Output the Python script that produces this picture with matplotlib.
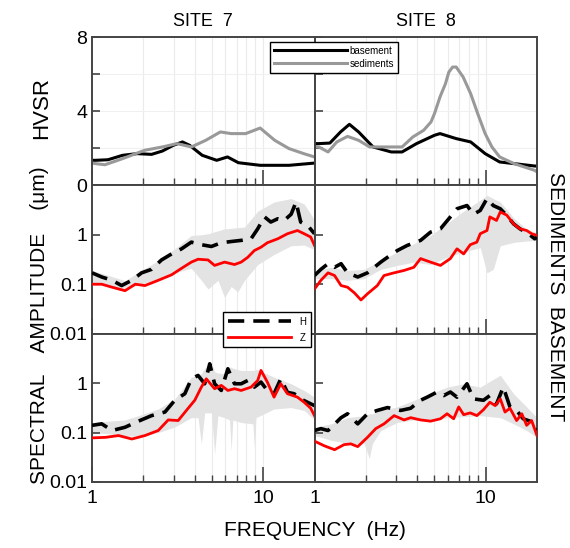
import matplotlib.pyplot as plt
from matplotlib.ticker import NullLocator, FixedLocator

plt.rcParams['font.family'] = ['Liberation Sans', 'DejaVu Sans']

# ---- HVSR (top row) ----
f7_base = [1.00, 1.05, 1.24, 1.51, 1.84, 2.23, 2.58, 2.99, 3.38, 3.72, 4.41, 5.36, 6.2, 7.18, 9.62, 14.2, 20.0]
hv7_base = [1.35, 1.35, 1.38, 1.62, 1.71, 1.67, 1.85, 2.16, 2.34, 2.16, 1.62, 1.35, 1.53, 1.22, 1.08, 1.08, 1.2]
f7_sed = [1.00, 1.05, 1.19, 1.51, 2.03, 2.58, 3.14, 3.81, 4.63, 5.63, 6.51, 7.92, 9.62, 11.7, 14.2, 17.3, 20.0]
hv7_sed = [1.2, 1.17, 1.11, 1.44, 1.89, 2.07, 2.25, 2.07, 2.43, 2.88, 2.79, 2.79, 3.09, 2.43, 1.98, 1.71, 1.53]
f8_base = [1.00, 1.06, 1.23, 1.42, 1.60, 1.81, 2.20, 2.81, 3.25, 3.95, 5.03, 5.42, 6.74, 8.19, 9.95, 12.1, 14.7, 19.5, 20.0]
hv8_base = [2.25, 2.25, 2.28, 2.88, 3.29, 2.88, 2.07, 1.80, 1.80, 2.25, 2.70, 2.79, 2.52, 2.34, 1.71, 1.26, 1.17, 1.04, 1.04]
f8_sed = [1.00, 1.06, 1.20, 1.35, 1.56, 1.81, 2.10, 2.67, 3.25, 3.76, 4.35, 4.80, 5.03, 5.42, 5.83, 6.10, 6.42, 6.74, 7.40, 8.19, 9.00, 9.95, 10.9, 12.1, 14.7, 19.5, 20.0]
hv8_sed = [2.1, 2.07, 1.80, 2.34, 2.64, 2.43, 2.07, 2.07, 2.07, 2.61, 2.97, 3.42, 3.87, 4.77, 5.48, 6.1, 6.38, 6.38, 5.84, 4.94, 3.87, 2.79, 2.07, 1.53, 1.17, 0.80, 0.72]

# ---- spectra, site 7 sediments ----
s7s_fz = [1.00, 1.14, 1.31, 1.56, 1.79, 2.04, 2.44, 2.92, 3.34, 3.81, 4.17, 4.77, 5.21, 5.96, 6.81, 7.45, 8.14, 8.90, 9.73, 10.6, 12.2, 13.9, 15.9, 17.4, 19.0, 20.0]
s7s_z = [0.10, 0.10, 0.087, 0.074, 0.10, 0.094, 0.12, 0.155, 0.21, 0.28, 0.32, 0.31, 0.24, 0.28, 0.25, 0.28, 0.35, 0.48, 0.56, 0.69, 0.83, 1.05, 1.22, 1.05, 0.90, 0.61]
s7s_fh = [1.00, 1.14, 1.31, 1.49, 1.71, 1.95, 2.23, 2.55, 2.92, 3.34, 3.81, 4.36, 4.99, 5.70, 6.51, 7.45, 8.51, 9.31, 10.2, 11.1, 12.2, 13.3, 14.6, 15.6, 16.6, 18.2, 20.0]
s7s_h = [0.17, 0.14, 0.12, 0.094, 0.12, 0.17, 0.20, 0.31, 0.41, 0.52, 0.71, 0.63, 0.58, 0.69, 0.73, 0.77, 0.83, 1.32, 2.3, 1.81, 2.11, 1.95, 2.6, 4.6, 1.81, 1.55, 1.05]
s7s_fb = [1.00, 1.25, 1.56, 1.95, 2.44, 3.05, 3.81, 4.36, 4.77, 5.45, 5.96, 6.51, 7.12, 7.79, 9.31, 11.6, 14.6, 17.4, 20.0]
s7s_hi = [0.19, 0.15, 0.118, 0.19, 0.30, 0.52, 0.97, 1.0, 1.05, 1.2, 1.32, 1.35, 1.4, 1.43, 3.0, 4.6, 5.4, 4.2, 2.0]
s7s_lo = [0.11, 0.090, 0.080, 0.10, 0.13, 0.17, 0.21, 0.12, 0.08, 0.12, 0.054, 0.09, 0.07, 0.12, 0.25, 0.40, 0.60, 0.62, 0.50]

# ---- spectra, site 8 sediments ----
s8s_fz = [1.00, 1.09, 1.20, 1.31, 1.43, 1.56, 1.71, 1.87, 2.04, 2.33, 2.55, 2.92, 3.34, 3.81, 4.17, 4.77, 5.45, 6.23, 6.81, 7.45, 8.14, 8.90, 9.31, 10.2, 10.6, 11.6, 12.2, 13.3, 14.6, 15.9, 17.4, 18.6, 20.0]
s8s_z = [0.08, 0.12, 0.17, 0.15, 0.094, 0.087, 0.067, 0.048, 0.064, 0.094, 0.15, 0.17, 0.19, 0.22, 0.33, 0.28, 0.24, 0.33, 0.52, 0.41, 0.63, 0.71, 1.05, 1.22, 2.3, 1.95, 2.9, 2.5, 1.66, 1.32, 1.22, 1.05, 0.97]
s8s_fh = [1.00, 1.09, 1.20, 1.31, 1.43, 1.56, 1.79, 2.04, 2.44, 2.67, 3.05, 3.49, 4.17, 4.77, 5.45, 6.23, 6.81, 7.79, 8.51, 9.31, 10.2, 11.1, 12.2, 13.3, 14.6, 15.9, 17.8, 19.4, 20.0]
s8s_h = [0.15, 0.20, 0.26, 0.22, 0.26, 0.17, 0.14, 0.17, 0.28, 0.35, 0.48, 0.61, 0.77, 1.13, 1.32, 2.3, 3.36, 3.9, 2.6, 3.1, 5.4, 3.9, 3.36, 2.46, 1.66, 1.32, 1.05, 0.83, 0.90]
s8s_fb = [1.00, 1.25, 1.56, 1.95, 2.44, 3.05, 3.81, 4.77, 5.96, 7.45, 9.31, 10.2, 11.1, 12.2, 14.6, 17.4, 20.0]
s8s_hi = [0.19, 0.22, 0.19, 0.20, 0.30, 0.45, 0.66, 0.97, 1.7, 3.0, 5.0, 6.3, 5.4, 4.6, 2.2, 1.3, 1.1]
s8s_lo = [0.13, 0.13, 0.12, 0.13, 0.20, 0.24, 0.28, 0.25, 0.35, 0.45, 0.55, 0.17, 0.2, 0.6, 0.7, 0.75, 0.77]

# ---- spectra, site 7 basement ----
s7b_fz = [1.00, 1.20, 1.43, 1.71, 2.04, 2.44, 2.79, 3.19, 3.65, 3.99, 4.36, 4.66, 5.21, 5.70, 6.23, 6.81, 7.45, 8.51, 9.31, 9.73, 10.6, 11.6, 12.7, 13.9, 15.9, 17.4, 19.0, 20.0]
s7b_z = [0.078, 0.08, 0.087, 0.074, 0.087, 0.11, 0.18, 0.175, 0.31, 0.45, 0.83, 1.22, 0.77, 0.9, 0.71, 0.77, 0.71, 0.83, 1.13, 1.81, 1.05, 0.52, 0.97, 0.61, 0.52, 0.41, 0.31, 0.22]
s7b_fh = [1.00, 1.14, 1.31, 1.56, 1.87, 2.23, 2.67, 3.05, 3.49, 3.81, 4.17, 4.56, 4.88, 5.21, 5.70, 6.23, 6.81, 7.45, 8.14, 8.90, 9.73, 10.6, 11.6, 12.7, 13.9, 15.2, 16.6, 18.2, 20.0]
s7b_h = [0.14, 0.15, 0.11, 0.128, 0.17, 0.22, 0.26, 0.45, 0.61, 1.22, 1.43, 0.97, 2.46, 0.97, 0.71, 1.95, 0.97, 0.97, 1.13, 0.83, 1.05, 0.71, 0.61, 1.22, 0.65, 0.61, 0.48, 0.41, 0.35]
s7b_fb = [1.00, 1.25, 1.56, 1.95, 2.44, 3.05, 3.81, 4.17, 4.36, 4.56, 4.99, 5.21, 5.45, 5.96, 6.37, 6.51, 6.66, 7.45, 8.72, 8.90, 9.10, 11.6, 14.6, 17.4, 20.0]
s7b_hi = [0.16, 0.17, 0.18, 0.23, 0.30, 0.48, 1.32, 1.45, 1.55, 2.0, 2.6, 1.7, 1.6, 1.55, 2.1, 2.1, 2.0, 1.8, 1.8, 1.8, 1.9, 1.32, 0.97, 0.71, 0.52]
s7b_lo = [0.10, 0.095, 0.085, 0.085, 0.10, 0.13, 0.20, 0.20, 0.059, 0.25, 0.25, 0.037, 0.22, 0.20, 0.18, 0.043, 0.18, 0.16, 0.15, 0.05, 0.20, 0.30, 0.32, 0.28, 0.18]

# ---- spectra, site 8 basement ----
s8b_fz = [1.00, 1.14, 1.31, 1.49, 1.63, 1.79, 2.04, 2.28, 2.55, 2.92, 3.34, 3.65, 4.17, 4.77, 5.45, 5.96, 6.51, 6.97, 7.45, 8.14, 8.90, 9.73, 10.6, 11.4, 12.2, 13.0, 13.9, 15.2, 16.3, 17.4, 18.6, 20.0]
s8b_z = [0.067, 0.054, 0.045, 0.057, 0.059, 0.052, 0.08, 0.12, 0.15, 0.22, 0.18, 0.2, 0.18, 0.17, 0.19, 0.24, 0.19, 0.33, 0.23, 0.25, 0.22, 0.29, 0.41, 0.35, 0.48, 0.26, 0.31, 0.175, 0.24, 0.14, 0.175, 0.087]
s8b_fh = [1.00, 1.09, 1.20, 1.43, 1.56, 1.79, 2.04, 2.33, 2.67, 3.19, 3.65, 4.17, 4.56, 5.21, 5.70, 6.23, 6.81, 7.79, 8.51, 9.73, 10.6, 11.6, 12.7, 13.9, 15.2, 16.6, 18.2, 20.0]
s8b_h = [0.11, 0.12, 0.11, 0.20, 0.24, 0.15, 0.24, 0.28, 0.32, 0.28, 0.31, 0.45, 0.52, 0.66, 0.56, 0.66, 0.52, 0.97, 0.48, 0.45, 0.56, 0.38, 0.83, 0.33, 0.28, 0.19, 0.17, 0.11]
s8b_fb = [1.00, 1.25, 1.56, 1.95, 2.09, 2.18, 2.44, 3.05, 3.81, 4.77, 5.96, 7.45, 9.31, 12.2, 14.6, 17.4, 20.0]
s8b_hi = [0.128, 0.15, 0.2, 0.22, 0.24, 0.24, 0.28, 0.33, 0.45, 0.61, 0.83, 0.97, 0.83, 1.45, 0.61, 0.33, 0.2]
s8b_lo = [0.087, 0.07, 0.06, 0.06, 0.03, 0.06, 0.11, 0.16, 0.18, 0.17, 0.20, 0.21, 0.22, 0.20, 0.15, 0.11, 0.08]

spectra = [
    [(s7s_fb, s7s_lo, s7s_hi, s7s_fh, s7s_h, s7s_fz, s7s_z), (s8s_fb, s8s_lo, s8s_hi, s8s_fh, s8s_h, s8s_fz, s8s_z)],
    [(s7b_fb, s7b_lo, s7b_hi, s7b_fh, s7b_h, s7b_fz, s7b_z), (s8b_fb, s8b_lo, s8b_hi, s8b_fh, s8b_h, s8b_fz, s8b_z)],
]

fig, axes = plt.subplots(3, 2, figsize=(5.7, 5.48), dpi=100)
fig.subplots_adjust(left=92/570, right=537/570, top=1-37/548, bottom=1-482/548, hspace=0, wspace=0)

SPINE = '#444444'
minor_x = [2, 3, 4, 5, 6, 7, 8, 9]

for r in range(3):
    for c in range(2):
        ax = axes[r, c]
        ax.set_xscale('log')
        ax.set_xlim(1, 20)
        ax.xaxis.set_major_locator(FixedLocator([1, 10]))
        ax.xaxis.set_minor_locator(FixedLocator(minor_x))
        for x in minor_x + [10]:
            ax.axvline(x, color='#ebebeb', lw=0.8, zorder=0)
        for s in ax.spines.values():
            s.set_color(SPINE)
            s.set_linewidth(1.4)
        ax.tick_params(which='both', direction='in', top=False, right=False,
                       color=SPINE, labelsize=14)
        ax.tick_params(which='major', axis='x', length=11, width=1.2)
        ax.tick_params(which='minor', axis='x', length=5, width=1.0)
        ax.tick_params(axis='y', length=6, width=1.2)
        if r == 2:
            ax.set_xticklabels(['1', '10'])
            ax.tick_params(axis='x', which='major', pad=6)
        else:
            ax.tick_params(axis='x', labelbottom=False)
        ax.xaxis.set_minor_formatter(plt.NullFormatter())
        if c == 1:
            ax.tick_params(axis='y', labelleft=False)

# top row
for c, (fb, hb, fs, hs) in enumerate([(f7_base, hv7_base, f7_sed, hv7_sed),
                                       (f8_base, hv8_base, f8_sed, hv8_sed)]):
    ax = axes[0, c]
    ax.set_ylim(0, 8)
    ax.set_yticks([0, 2, 4, 6, 8])
    ax.set_yticklabels(['0', '', '4', '', '8'])
    for y in [2, 4, 6]:
        ax.axhline(y, color='#f0f0f0', lw=0.8, zorder=0)
    ax.plot(fb, hb, color='black', lw=2.2, label='basement')
    ax.plot(fs, hs, color='#999999', lw=2.2, label='sediments')

# spectra rows
for r in range(2):
    for c in range(2):
        ax = axes[r + 1, c]
        fb, lo, hi, fh, h, fz, z = spectra[r][c]
        ax.set_yscale('log')
        ax.set_ylim(0.01, 10)
        ax.set_yticks([0.01, 0.1, 1])
        ax.set_yticklabels(['0.01', '0.1', '1'])
        ax.yaxis.set_minor_locator(NullLocator())
        ax.fill_between(fb, lo, hi, color='#e3e3e3', lw=0, zorder=1)
        ax.plot(fh, h, color='black', lw=2.6, dashes=(4.5, 2.5), zorder=3, label='H')
        ax.plot(fz, z, color='#ff0000', lw=2.0, zorder=4, label='Z')

axes[0, 0].set_title('SITE  7', fontsize=13, pad=8)
axes[0, 1].set_title('SITE  8', fontsize=13, pad=8)

h1, l1 = axes[0, 0].get_legend_handles_labels()
fig.legend(h1, l1, loc='upper left', bbox_to_anchor=(265/570, 1-37/548),
           fontsize=7, handlelength=7.5, handletextpad=0.3, borderpad=0.4,
           labelspacing=0.3, fancybox=False, framealpha=1, edgecolor='black',
           alignment='right')

h2, l2 = axes[1, 0].get_legend_handles_labels()
fig.legend(h2, l2, loc='upper right', bbox_to_anchor=(316/570, 1-307/548),
           fontsize=7, handlelength=6.5, handletextpad=0.8, borderpad=0.5,
           labelspacing=0.6, fancybox=False, framealpha=1, edgecolor='black')

fig.text(42/570, 1-108/548, 'HVSR', rotation=90, fontsize=16, ha='center', va='center')
fig.text(40/570, 1-325/548, 'SPECTRAL    AMPLITUDE    (\u03bcm)', rotation=90,
         fontsize=15, ha='center', va='center')
fig.text(556/570, 1-297/548, 'SEDIMENTS  BASEMENT', rotation=270,
         fontsize=15, ha='center', va='center')
fig.text(315/570, 1-531/548, 'FREQUENCY  (Hz)', fontsize=15, ha='center', va='center')

fig.savefig('out.png', dpi=100)
